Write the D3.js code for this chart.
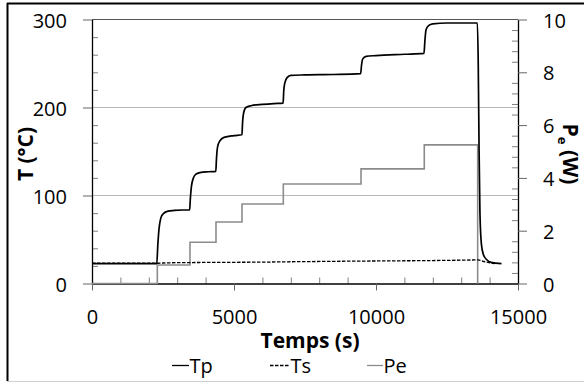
<!DOCTYPE html>
<html>
<head>
<meta charset="utf-8">
<script src="https://cdn.jsdelivr.net/npm/d3@7"></script>
<style>
  body { margin: 0; background: #fff; }
  svg { display: block; font-family: "Open Sans", sans-serif; }
</style>
</head>
<body>
<div id="chart"></div>
<script>
// Tp: wall temperature (°C)
const tpTime = [0, 1000, 2000, 2280, 2320, 2360, 2420, 2500, 2650, 2900, 3200, 3440,
  3460, 3500, 3560, 3650, 3800, 4100, 4360,
  4380, 4420, 4500, 4650, 5000, 5280,
  5300, 5340, 5420, 5600, 6000, 6400, 6730,
  6750, 6790, 6870, 7000, 7500, 8500, 9460,
  9490, 9530, 9650, 10000, 11000, 11690,
  11720, 11760, 11850, 12000, 12500, 13000, 13570,
  13600, 13630, 13660, 13710, 13780, 13900, 14050, 14420];
const tpTemp = [22.5, 22.5, 22.5, 22.5, 45, 62, 74, 79, 82, 83, 83.5, 83.5,
  95, 110, 119, 124, 126, 127, 127.5,
  140, 155, 162, 166, 168, 169,
  182, 194, 200, 202, 203.5, 204.5, 205,
  218, 228, 234, 236.5, 237, 237.5, 238.5,
  248, 255, 258, 259, 260.5, 261.5,
  275, 288, 293, 295, 296, 296, 296,
  250, 150, 80, 45, 33, 27, 24, 22.5];

// Ts: surface temperature (°C)
const tsTime = [0, 2300, 2500, 3450, 4500, 6000, 7000, 8500, 10000, 11700, 13000, 13600, 13800, 14000, 14200];
const tsTemp = [23, 23, 23.3, 23.8, 24, 24.3, 24.7, 25.2, 25.6, 26, 26.5, 26.8, 25, 23.5, 22.5];

// Pe: electric power (W), step changes
const peTime = [0, 2300, 3450, 4366, 5282, 6736, 9472, 11700, 13580];
const pePower = [0, 0.7, 1.56, 2.33, 3.01, 3.77, 4.34, 5.25, 0];

const tempTicks = [0, 100, 200, 300];
const powerTicks = [0, 2, 4, 6, 8, 10];
const timeTicks = [0, 5000, 10000, 15000];
const legendLabels = ['Tp', 'Ts', 'Pe'];

const width = 584, height = 383;
const margin = { top: 19.5, right: 66, bottom: 99.5, left: 92 };

const svg = d3.select('#chart').append('svg')
  .attr('width', width)
  .attr('height', height);

// outer frame
svg.append('line').attr('x1', 7).attr('x2', width).attr('y1', 3.5).attr('y2', 3.5)
  .attr('stroke', '#000').attr('stroke-width', 2);
svg.append('line').attr('x1', 7.5).attr('x2', 7.5).attr('y1', 3).attr('y2', 381)
  .attr('stroke', '#000').attr('stroke-width', 2);
svg.append('line').attr('x1', 7).attr('x2', width).attr('y1', 381.5).attr('y2', 381.5)
  .attr('stroke', '#d0d0d0').attr('stroke-width', 1);

const x = d3.scaleLinear().domain([0, 15000]).range([margin.left, width - margin.right]);
const y = d3.scaleLinear().domain([0, 300]).range([height - margin.bottom, margin.top]);
const y2 = d3.scaleLinear().domain([0, 10]).range([height - margin.bottom, margin.top]);

// gridlines
svg.append('g')
  .selectAll('line')
  .data(tempTicks.filter(d => d > 0))
  .join('line')
  .attr('x1', x(0)).attr('x2', x(15000))
  .attr('y1', d => y(d)).attr('y2', d => y(d))
  .attr('stroke', d => d === 300 ? '#555' : '#b8b8b8')
  .attr('stroke-width', 1);

// minor ticks (inside)
const minorT = d3.range(0, 301, 20).filter(d => d % 100 !== 0);
const minorP = d3.range(0, 10.01, 0.4).filter(d => Math.abs(d / 2 - Math.round(d / 2)) > 0.01);
const minorX = d3.range(0, 15001, 1000).filter(d => d % 5000 !== 0);

svg.append('g').attr('transform', `translate(${margin.left},0)`)
  .call(d3.axisLeft(y).tickValues(minorT).tickSize(-6).tickFormat(''))
  .call(g => g.select('.domain').remove())
  .call(g => g.selectAll('line').attr('stroke', '#808080'));
svg.append('g').attr('transform', `translate(${width - margin.right},0)`)
  .call(d3.axisRight(y2).tickValues(minorP).tickSize(-6).tickFormat(''))
  .call(g => g.select('.domain').remove())
  .call(g => g.selectAll('line').attr('stroke', '#808080'));
svg.append('g').attr('transform', `translate(0,${height - margin.bottom})`)
  .call(d3.axisBottom(x).tickValues(minorX).tickSize(-6).tickFormat(''))
  .call(g => g.select('.domain').remove())
  .call(g => g.selectAll('line').attr('stroke', '#808080'));

// main axes
function styleAxis(g) {
  g.select('.domain').attr('stroke', '#000').attr('stroke-width', 1.3);
  g.selectAll('.tick line').attr('stroke', '#666');
  g.selectAll('.tick text').attr('fill', '#000').style('font-size', '20px')
    .style('font-family', '"Open Sans", sans-serif');
}

svg.append('g').attr('transform', `translate(${margin.left},0)`)
  .call(d3.axisLeft(y).tickValues(tempTicks).tickFormat(d3.format('d'))
    .tickSize(9).tickSizeOuter(0).tickPadding(16))
  .call(styleAxis)
  .call(g => g.selectAll('.tick text').attr('dy', '0.38em'));

svg.append('g').attr('transform', `translate(${width - margin.right},0)`)
  .call(d3.axisRight(y2).tickValues(powerTicks).tickFormat(d3.format('d'))
    .tickSize(9).tickSizeOuter(0).tickPadding(16))
  .call(styleAxis)
  .call(g => g.selectAll('.tick text').attr('dy', '0.38em'));

svg.append('g').attr('transform', `translate(0,${height - margin.bottom})`)
  .call(d3.axisBottom(x).tickValues(timeTicks).tickFormat(d3.format('d'))
    .tickSize(7).tickSizeOuter(0).tickPadding(19))
  .call(styleAxis);

// series
const lineTp = d3.line()
  .x((d, i) => x(tpTime[i]))
  .y(d => y(d))
  .curve(d3.curveMonotoneX);
const lineTs = d3.line()
  .x((d, i) => x(tsTime[i]))
  .y(d => y(d))
  .curve(d3.curveMonotoneX);
const linePe = d3.line()
  .x((d, i) => x(peTime[i]))
  .y(d => y2(d))
  .curve(d3.curveStepAfter);

svg.append('path').attr('d', linePe(pePower))
  .attr('fill', 'none').attr('stroke', '#8c8c8c').attr('stroke-width', 1.6);
svg.append('path').attr('d', lineTs(tsTemp))
  .attr('fill', 'none').attr('stroke', '#000').attr('stroke-width', 1.3)
  .attr('stroke-dasharray', '3.5,1.5');
svg.append('path').attr('d', lineTp(tpTemp))
  .attr('fill', 'none').attr('stroke', '#000').attr('stroke-width', 1.7);

// axis titles
svg.append('text')
  .attr('x', 310).attr('y', 348)
  .attr('text-anchor', 'middle')
  .style('font-size', '21px').style('font-weight', 700)
  .text('Temps (s)');

svg.append('text')
  .attr('transform', 'translate(33,154) rotate(-90)')
  .attr('text-anchor', 'middle')
  .style('font-size', '21px').style('font-weight', 700)
  .text('T (°C)');

const pTitle = svg.append('text')
  .attr('transform', 'translate(563,154) rotate(90)')
  .attr('text-anchor', 'middle')
  .style('font-size', '21px').style('font-weight', 700);
pTitle.append('tspan').text('P');
pTitle.append('tspan').attr('dy', 5).style('font-size', '13px').text('e');
pTitle.append('tspan').attr('dy', -5).text(' (W)');

// legend
const legendItems = [
  { label: legendLabels[0], x0: 172, x1: 189, color: '#000', dash: null },
  { label: legendLabels[1], x0: 270, x1: 290, color: '#000', dash: '3.5,1.5' },
  { label: legendLabels[2], x0: 367, x1: 383, color: '#8c8c8c', dash: null }
];
const legend = svg.append('g');
legendItems.forEach(d => {
  legend.append('line')
    .attr('x1', d.x0).attr('x2', d.x1).attr('y1', 365.5).attr('y2', 365.5)
    .attr('stroke', d.color).attr('stroke-width', 1.3)
    .attr('stroke-dasharray', d.dash);
  legend.append('text')
    .attr('x', d.x1 + 0.5).attr('y', 372.5)
    .style('font-size', '20px')
    .text(d.label);
});
</script>
</body>
</html>
